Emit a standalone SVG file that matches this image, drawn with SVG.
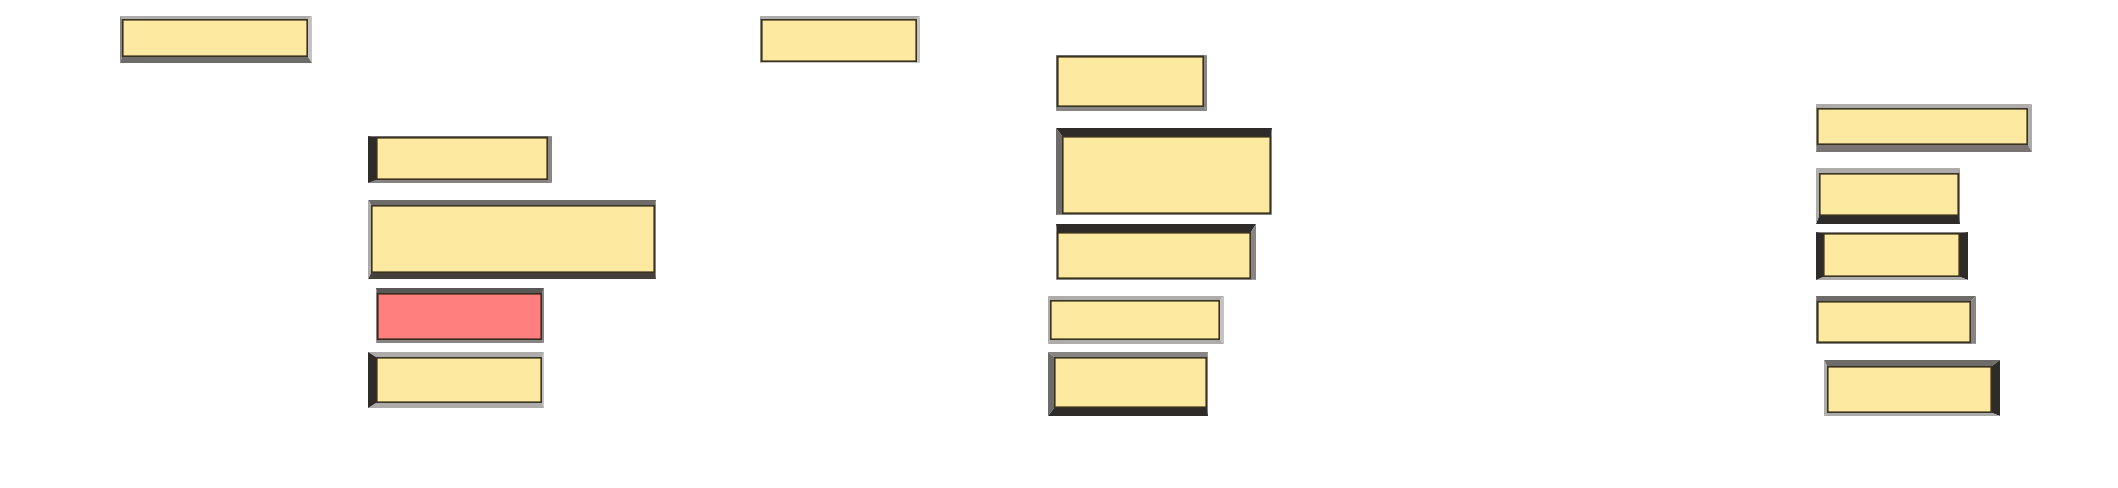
<svg xmlns="http://www.w3.org/2000/svg" width="2118" height="488" viewBox="0 0 2118 488">
<style>
.f{fill:#fee9a0;stroke:#3a3320;stroke-width:1.6}
.r{fill:#ff7f7f;stroke:#3a2a20;stroke-width:1.6}
.dk{fill:#2f2b28}
.md{fill:#6e6b6b}
.gr{fill:#878484}
.lt{fill:#aeabab}
.xl{fill:#c4c2c2}
</style>
<rect width="2118" height="488" fill="#ffffff"/>
<g id="connectors"></g>
<g id="n1">
<polygon class="lt" points="120,16 312,16 308,19 122,19"/>
<polygon class="xl" points="312,16 312,63 308,57 308,19"/>
<polygon class="md" points="120,63 312,63 308,57 122,57"/>
<polygon class="gr" points="120,16 122,19 122,57 120,63"/>
<rect class="f" x="122.8" y="19.8" width="184.4" height="36.4"/>
</g>
<g id="n2">
<polygon class="lt" points="760,16 920,16 917,19 761,19"/>
<polygon class="xl" points="920,16 920,63 917,62 917,19"/>
<polygon class="xl" points="760,63 920,63 917,62 761,62"/>
<polygon class="gr" points="760,16 761,19 761,62 760,63"/>
<rect class="f" x="761.8" y="19.8" width="154.4" height="41.4"/>
</g>
<g id="n3">
<polygon class="md" points="1056,55 1207,55 1204,56 1057,56"/>
<polygon class="gr" points="1207,55 1207,111 1204,107 1204,56"/>
<polygon class="gr" points="1056,111 1207,111 1204,107 1057,107"/>
<polygon class="md" points="1056,55 1057,56 1057,107 1056,111"/>
<rect class="f" x="1057.8" y="56.8" width="145.4" height="49.4"/>
</g>
<g id="n4">
<polygon class="dk" points="1056,128 1272,128 1271,136 1062,136"/>
<polygon class="gr" points="1272,128 1272,215 1271,214 1271,136"/>
<polygon class="gr" points="1056,215 1272,215 1271,214 1062,214"/>
<polygon class="md" points="1056,128 1062,136 1062,214 1056,215"/>
<rect class="f" x="1062.8" y="136.8" width="207.4" height="76.4"/>
</g>
<g id="n5">
<polygon class="md" points="368,136 552,136 548,137 376,137"/>
<polygon class="gr" points="552,136 552,183 548,180 548,137"/>
<polygon class="gr" points="368,183 552,183 548,180 376,180"/>
<polygon class="dk" points="368,136 376,137 376,180 368,183"/>
<rect class="f" x="376.8" y="137.8" width="170.4" height="41.4"/>
</g>
<g id="n6">
<polygon class="md" points="368,200 656,200 655,205 371,205"/>
<polygon class="gr" points="656,200 656,279 655,273 655,205"/>
<polygon class="dk" points="368,279 656,279 655,273 371,273" style="fill:#45403c"/>
<polygon class="lt" points="368,200 371,205 371,273 368,279"/>
<rect class="f" x="371.8" y="205.8" width="282.4" height="66.4"/>
</g>
<g id="n7">
<polygon class="md" points="376,288 544,288 542,293 377,293" style="fill:#5a5757"/>
<polygon class="gr" points="544,288 544,343 542,340 542,293"/>
<polygon class="gr" points="376,343 544,343 542,340 377,340"/>
<polygon class="gr" points="376,288 377,293 377,340 376,343"/>
<rect class="r" x="377.8" y="293.8" width="163.4" height="45.4"/>
</g>
<g id="n8">
<polygon class="lt" points="368,352 544,352 542,357 376,357"/>
<polygon class="xl" points="544,352 544,408 542,403 542,357"/>
<polygon class="lt" points="368,408 544,408 542,403 376,403"/>
<polygon class="dk" points="368,352 376,357 376,403 368,408"/>
<rect class="f" x="376.8" y="357.8" width="164.4" height="44.4"/>
</g>
<g id="n9">
<polygon class="dk" points="1056,224 1256,224 1251,232 1057,232"/>
<polygon class="gr" points="1256,224 1256,280 1251,279 1251,232"/>
<polygon class="gr" points="1056,280 1256,280 1251,279 1057,279"/>
<polygon class="gr" points="1056,224 1057,232 1057,279 1056,280"/>
<rect class="f" x="1057.8" y="232.8" width="192.4" height="45.4"/>
</g>
<g id="n10">
<polygon class="lt" points="1048,296 1224,296 1220,300 1050,300"/>
<polygon class="xl" points="1224,296 1224,344 1220,340 1220,300"/>
<polygon class="lt" points="1048,344 1224,344 1220,340 1050,340"/>
<polygon class="lt" points="1048,296 1050,300 1050,340 1048,344"/>
<rect class="f" x="1050.8" y="300.8" width="168.4" height="38.4"/>
</g>
<g id="n11">
<polygon class="gr" points="1048,352 1208,352 1207,357 1054,357"/>
<polygon class="gr" points="1208,352 1208,416 1207,408 1207,357"/>
<polygon class="dk" points="1048,416 1208,416 1207,408 1054,408"/>
<polygon class="md" points="1048,352 1054,357 1054,408 1048,416"/>
<rect class="f" x="1054.8" y="357.8" width="151.4" height="49.4"/>
</g>
<g id="n12">
<polygon class="lt" points="1816,104 2032,104 2028,108 1817,108"/>
<polygon class="lt" points="2032,104 2032,152 2028,145 2028,108"/>
<polygon class="md" points="1816,152 2032,152 2028,145 1817,145" style="fill:#7a7475"/>
<polygon class="gr" points="1816,104 1817,108 1817,145 1816,152"/>
<rect class="f" x="1817.8" y="108.8" width="209.4" height="35.4"/>
</g>
<g id="n13">
<polygon class="lt" points="1816,168 1960,168 1959,173 1819,173"/>
<polygon class="gr" points="1960,168 1960,224 1959,216 1959,173"/>
<polygon class="dk" points="1816,224 1960,224 1959,216 1819,216"/>
<polygon class="lt" points="1816,168 1819,173 1819,216 1816,224"/>
<rect class="f" x="1819.8" y="173.8" width="138.4" height="41.4"/>
</g>
<g id="n14">
<polygon class="gr" points="1816,232 1968,232 1960,233 1823,233"/>
<polygon class="dk" points="1968,232 1968,280 1960,277 1960,233"/>
<polygon class="lt" points="1816,280 1968,280 1960,277 1823,277"/>
<polygon class="dk" points="1816,232 1823,233 1823,277 1816,280"/>
<rect class="f" x="1823.8" y="233.8" width="135.4" height="42.4"/>
</g>
<g id="n15">
<polygon class="md" points="1816,296 1976,296 1971,301 1817,301"/>
<polygon class="gr" points="1976,296 1976,344 1971,343 1971,301"/>
<polygon class="gr" points="1816,344 1976,344 1971,343 1817,343"/>
<polygon class="md" points="1816,296 1817,301 1817,343 1816,344"/>
<rect class="f" x="1817.8" y="301.8" width="152.4" height="40.4"/>
</g>
<g id="n16">
<polygon class="md" points="1824,360 2000,360 1992,366 1827,366"/>
<polygon class="dk" points="2000,360 2000,416 1992,413 1992,366"/>
<polygon class="lt" points="1824,416 2000,416 1992,413 1827,413"/>
<polygon class="lt" points="1824,360 1827,366 1827,413 1824,416"/>
<rect class="f" x="1827.8" y="366.8" width="163.4" height="45.4"/>
</g>
</svg>
